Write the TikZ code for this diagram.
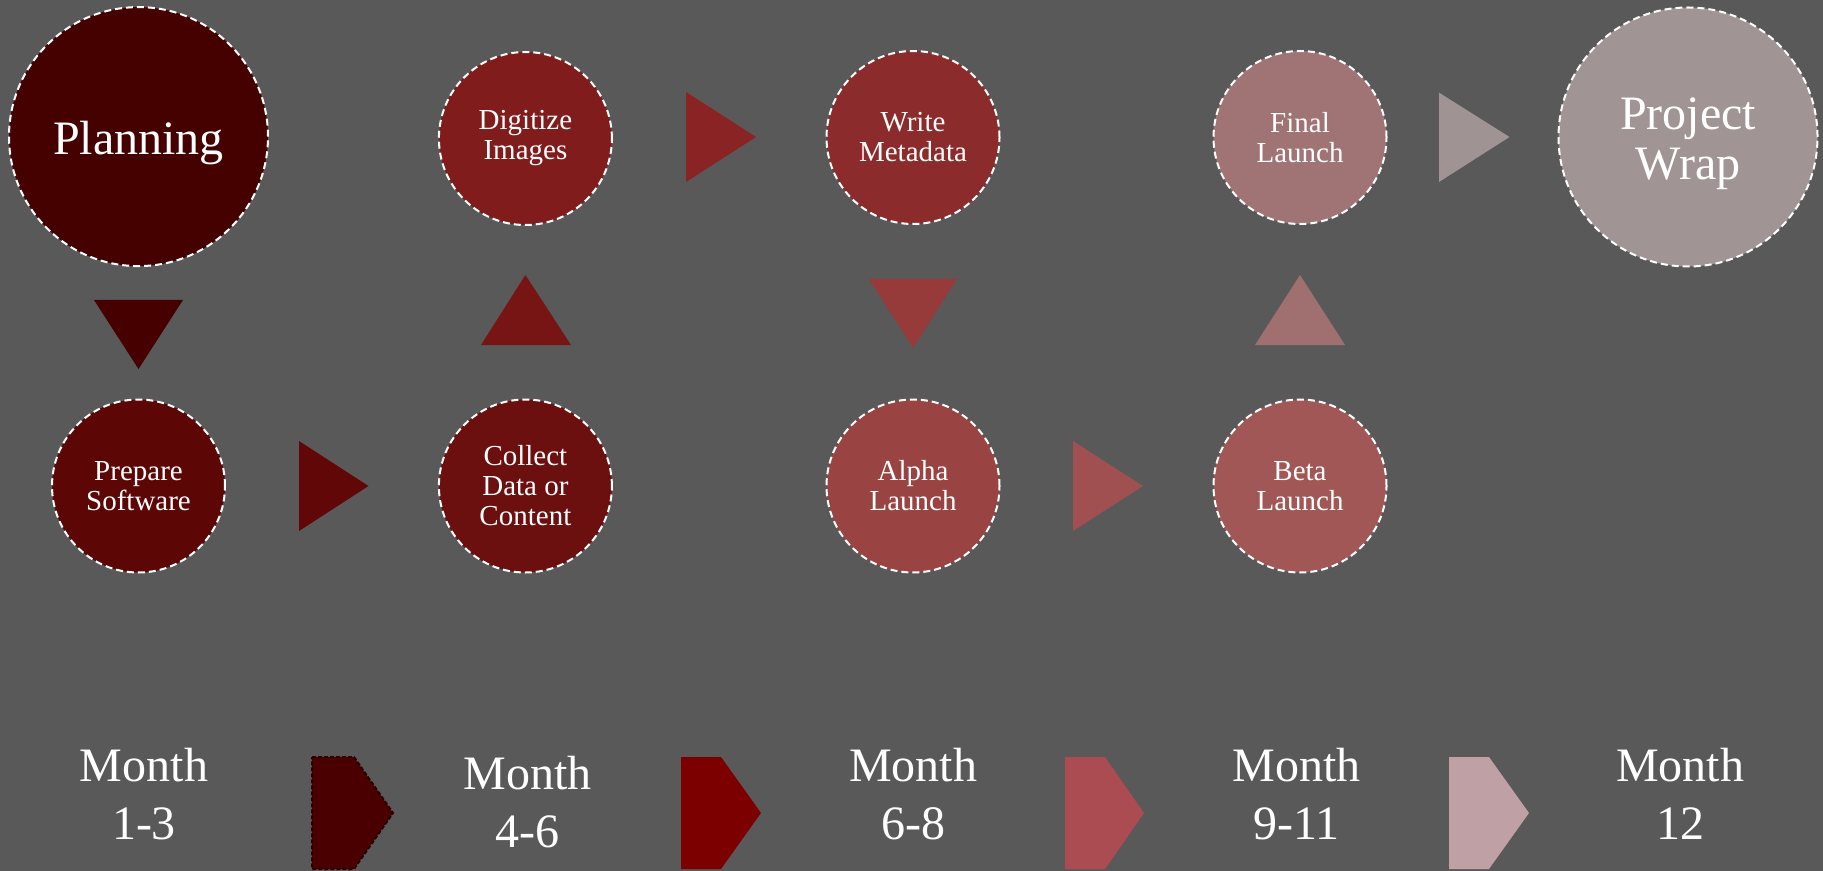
\documentclass[tikz,border=0pt]{standalone}
\usepackage{fontspec}
\setmainfont{Liberation Serif}
\definecolor{bg}{HTML}{595959}
\definecolor{cPlan}{HTML}{450000}
\definecolor{cPrep}{HTML}{5C0606}
\definecolor{cColl}{HTML}{6C0F0F}
\definecolor{cDigi}{HTML}{801C1C}
\definecolor{cWrit}{HTML}{8C2B2C}
\definecolor{cAlph}{HTML}{9A4343}
\definecolor{cBeta}{HTML}{A25757}
\definecolor{cFina}{HTML}{A07474}
\definecolor{cWrap}{HTML}{A09494}
\definecolor{tDown}{HTML}{470000}
\definecolor{tRa}{HTML}{620707}
\definecolor{tUpa}{HTML}{771414}
\definecolor{tRb}{HTML}{8A2323}
\definecolor{tDownb}{HTML}{973A3A}
\definecolor{tRc}{HTML}{A05051}
\definecolor{tUpb}{HTML}{A07070}
\definecolor{tRd}{HTML}{A09393}
\definecolor{chA}{HTML}{4B0000}
\definecolor{chAline}{HTML}{2A0000}
\definecolor{chB}{HTML}{7C0000}
\definecolor{chC}{HTML}{AB4C53}
\definecolor{chD}{HTML}{BFA1A5}
\begin{document}
\begin{tikzpicture}[x=0.5pt,y=-0.5pt,
  stage/.style={circle, draw=white, line width=1pt, dash pattern=on 3.5pt off 2pt,
    text=white, align=center, inner sep=0pt, minimum size=86.5pt,
    font=\fontsize{14.5}{15}\selectfont},
  bigstage/.style={stage, minimum size=129.5pt},
  bigtext/.style={text=white, align=center, inner sep=0pt, font=\fontsize{24}{25}\selectfont},
  month/.style={text=white, align=center, inner sep=0pt, font=\fontsize{24}{29}\selectfont}
]
\fill[bg] (0,0) rectangle (1823,871);
\useasboundingbox (0,0) rectangle (1823,871);

% stages
\node[bigstage, fill=cPlan] (planning) at (138.5,136.6) {};
\node[bigtext] (planningtext) at ([yshift=-3pt]planning.center) {Planning};
\node[stage, fill=cPrep] (prepare) at (138.5,486) {Prepare\\Software};
\node[stage, fill=cColl] (collect) at (525.4,486) {Collect\\Data or\\Content};
\node[stage, fill=cDigi] (digitize) at (525.4,138.5) {Digitize\\Images};
\node[stage, fill=cWrit] (write) at (913,137.5) {Write\\Metadata};
\node[stage, fill=cAlph] (alpha) at (913,486) {Alpha\\Launch};
\node[stage, fill=cBeta] (beta) at (1300,486) {Beta\\Launch};
\node[stage, fill=cFina] (final) at (1300,137.5) {Final\\Launch};
\node[bigstage, fill=cWrap] (wrap) at (1688,137) {};
\node[bigtext] (wraptext) at ([yshift=-3.5pt]wrap.center) {Project\\Wrap};

% triangle connectors
\fill[tDown] (94,300) -- (183,300) -- (138.5,369) -- cycle;
\fill[tRa] (299,441) -- (299,531) -- (368.5,486) -- cycle;
\fill[tUpa] (481,345) -- (571,345) -- (525.4,275) -- cycle;
\fill[tRb] (686,92) -- (686,182) -- (756,137) -- cycle;
\fill[tDownb] (869,279) -- (957,279) -- (913,348) -- cycle;
\fill[tRc] (1073,441) -- (1073,531) -- (1143,486) -- cycle;
\fill[tUpb] (1255,345) -- (1345,345) -- (1300,275) -- cycle;
\fill[tRd] (1439,92.6) -- (1439,182) -- (1509.5,137) -- cycle;

% timeline
\node[month] (m1) at (144,794) {Month\\1-3};
\node[month] (m2) at (527.6,801.7) {Month\\4-6};
\node[month] (m3) at (913,794) {Month\\6-8};
\node[month] (m4) at (1296.4,794) {Month\\9-11};
\node[month] (m5) at (1680,794) {Month\\12};

\filldraw[fill=chA, draw=chAline, line width=1pt, dash pattern=on 2pt off 1pt]
  (312,757) -- (354,757) -- (393,813) -- (354,869) -- (312,869) -- cycle;
\fill[chB] (681,757) -- (721,757) -- (761,813) -- (721,869) -- (681,869) -- cycle;
\fill[chC] (1065,757) -- (1105,757) -- (1144,813) -- (1105,869) -- (1065,869) -- cycle;
\fill[chD] (1449,757) -- (1489,757) -- (1529,813) -- (1489,869) -- (1449,869) -- cycle;
\end{tikzpicture}
\end{document}
